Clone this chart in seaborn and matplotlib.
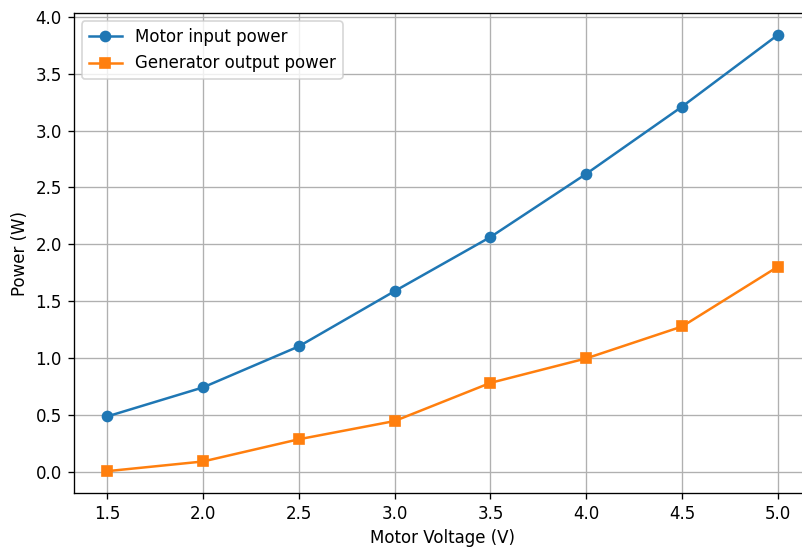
import matplotlib
matplotlib.use("Agg")
import matplotlib.pyplot as plt
import seaborn as sns
import pandas as pd

voltage = [1.5, 2.0, 2.5, 3.0, 3.5, 4.0, 4.5, 5.0]
motor_input = [0.49, 0.745, 1.105, 1.59, 2.065, 2.62, 3.21, 3.84]
generator_output = [0.01, 0.095, 0.29, 0.45, 0.785, 1.0, 1.28, 1.805]

df = pd.DataFrame({"voltage": voltage, "motor": motor_input, "gen": generator_output})

DPI = 120
fig = plt.figure(figsize=(802 / DPI, 549 / DPI), dpi=DPI)
ax = fig.add_axes([73.5 / 802, 56 / 549, (811.5 - 73.5) / 802, 480 / 549])

blue, orange = "#1f77b4", "#ff7f0e"
sns.lineplot(data=df, x="voltage", y="motor", marker="o", markersize=6,
             markeredgewidth=1, markeredgecolor=blue, color=blue,
             label="Motor input power", ax=ax)
sns.lineplot(data=df, x="voltage", y="gen", marker="s", markersize=6,
             markeredgewidth=1, markeredgecolor=orange, color=orange,
             label="Generator output power", ax=ax)

ax.set_xlabel("Motor Voltage (V)")
ax.set_ylabel("Power (W)")
ax.grid(True, color="#b0b0b0", linewidth=0.8)
ax.set_axisbelow(True)
ax.legend(loc="upper left")

fig.savefig("out.png", dpi=DPI)
